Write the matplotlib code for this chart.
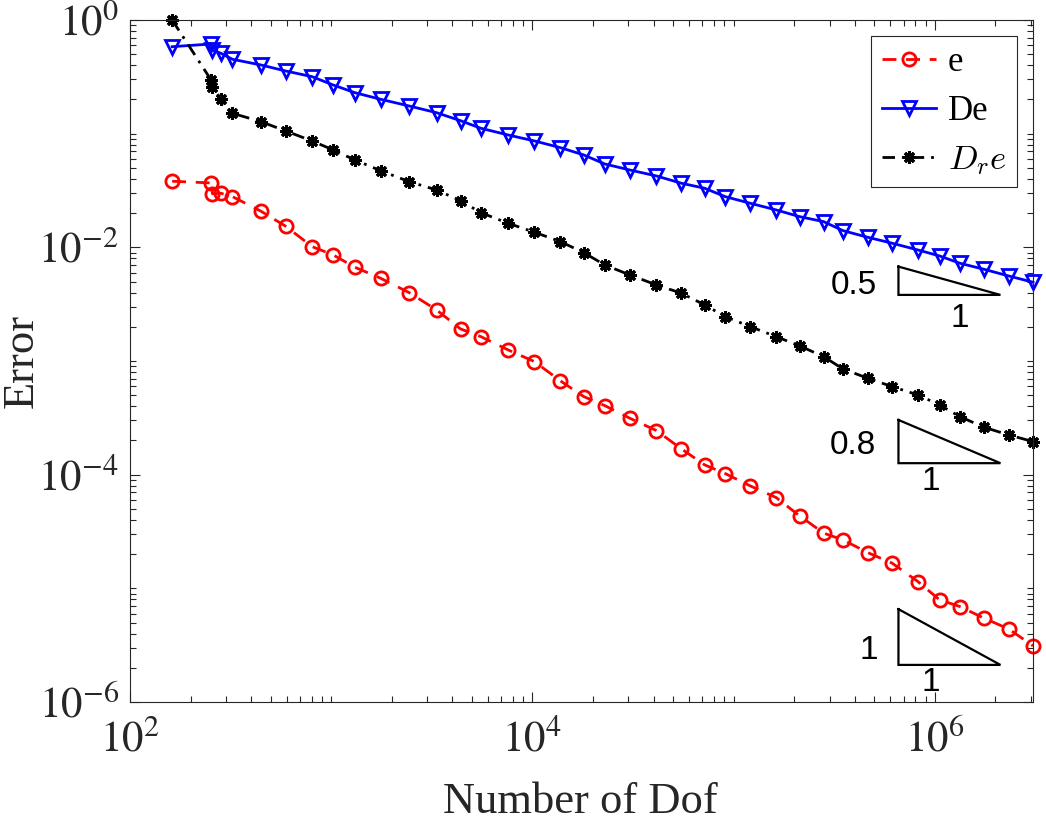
import numpy as np
import matplotlib
matplotlib.use('Agg')
import matplotlib.pyplot as plt
from matplotlib.ticker import LogLocator, NullFormatter
from matplotlib.font_manager import FontProperties

# ---------------- data ----------------
dof = [162, 253, 257, 283, 323, 448, 594, 804, 1023, 1311, 1760, 2441, 3339,
       4393, 5542, 7574, 10240, 13790, 18000, 22890, 30470, 41350, 55040,
       71840, 90850, 120900, 162800, 213000, 280300, 349500, 463600, 613600,
       824100, 1056000, 1332000, 1753000, 2326000, 3078000]

err_e = [3.815e-2, 3.685e-2, 2.961e-2, 2.991e-2, 2.792e-2, 2.077e-2, 1.533e-2,
         1.014e-2, 8.577e-3, 6.683e-3, 5.348e-3, 3.996e-3, 2.814e-3, 1.916e-3,
         1.639e-3, 1.252e-3, 9.879e-4, 6.683e-4, 4.862e-4, 4.053e-4, 3.139e-4,
         2.443e-4, 1.686e-4, 1.219e-4, 1.023e-4, 7.97e-5, 6.29e-5, 4.34e-5,
         3.06e-5, 2.67e-5, 2.065e-5, 1.666e-5, 1.148e-5, 7.92e-6, 6.92e-6,
         5.47e-6, 4.40e-6, 3.12e-6]

err_De = [0.5823, 0.6150, 0.5446, 0.5095, 0.4512, 0.4020, 0.3560, 0.3172,
          0.2681, 0.2294, 0.2007, 0.1752, 0.1530, 0.1301, 0.1116, 0.09741,
          0.08626, 0.07532, 0.06497, 0.05413, 0.04794, 0.04246, 0.03663,
          0.03310, 0.02792, 0.02443, 0.02133, 0.01862, 0.01683, 0.01403,
          0.01227, 0.01087, 0.009486, 0.008402, 0.007248, 0.006418, 0.005604,
          0.004932]

err_Dre = [1.0, 0.2967, 0.2575, 0.2019, 0.1511, 0.1275, 0.1056, 0.08626,
           0.07190, 0.05871, 0.04726, 0.03782, 0.03197, 0.02575, 0.02019,
           0.01629, 0.01358, 0.01122, 0.008982, 0.007002, 0.005719, 0.004670,
           0.003947, 0.003115, 0.002458, 0.002007, 0.001639, 0.001358,
           0.001093, 8.52e-4, 7.06e-4, 5.953e-4, 5.031e-4, 4.111e-4, 3.243e-4,
           2.617e-4, 2.239e-4, 1.955e-4]

series_labels = ['e', 'De', r'$D_r e$']
xticks = [1e2, 1e4, 1e6]
xtick_labels = [r'$10^{2}$', r'$10^{4}$', r'$10^{6}$']
yticks = [1e-6, 1e-4, 1e-2, 1e0]
ytick_labels = [r'$10^{-6}$', r'$10^{-4}$', r'$10^{-2}$', r'$10^{0}$']

# slope triangles (annotation): x-range and (top, bottom) y values
tri_x = [6.6e5, 2.12e6]
tri_y = [(6.77e-3, 3.815e-3), (3.03e-4, 1.262e-4), (6.56e-6, 2.12e-6)]
tri_rates = ['0.5', '0.8', '1']

# ---------------- figure ----------------
W, H = 1046, 821
fig = plt.figure(figsize=(W / 100, H / 100), dpi=100)
ax = fig.add_axes([130 / W, 1 - 702 / H, (1033 - 130) / W, (702 - 20) / H])

axc = (0.15, 0.15, 0.15)

l1, = ax.loglog(dof, err_e, color='r', lw=2, marker='o', ms=9.5, mfc='none',
                mew=2, label=series_labels[0], clip_on=False)
l1.set_dashes((5, 3.5))
l2, = ax.loglog(dof, err_De, color='b', lw=2, ls='-', marker='v', ms=10.5,
                mfc='none', mew=2, label=series_labels[1], clip_on=False)
l3, = ax.loglog(dof, err_Dre, color='k', lw=2, marker=(8, 2, 0), ms=9,
                mew=2.2, label=series_labels[2], clip_on=False)
l3.set_dashes((4.5, 2.5, 1, 2.5))

ax.set_xlim(100, dof[-1])
ax.set_ylim(1e-6, 1)

ax.set_xticks(xticks)
ax.set_yticks(yticks)
ax.xaxis.set_minor_locator(LogLocator(base=10, subs=np.arange(1, 10), numticks=100))
ax.yaxis.set_minor_locator(LogLocator(base=10, subs=np.arange(1, 10), numticks=100))
ax.xaxis.set_minor_formatter(NullFormatter())
ax.yaxis.set_minor_formatter(NullFormatter())

tick_fp = FontProperties(family='Liberation Serif', size=31, math_fontfamily='stix')
ax.set_xticklabels(xtick_labels, fontproperties=tick_fp, color=axc)
ax.set_yticklabels(ytick_labels, fontproperties=tick_fp, color=axc)

ax.tick_params(which='both', direction='in', top=True, right=True,
               color=axc, width=0.8)
ax.tick_params(which='major', length=7.2)
ax.tick_params(which='minor', length=4.3)
ax.tick_params(axis='x', which='major', pad=13)
ax.tick_params(axis='y', which='major', pad=8)
for sp in ax.spines.values():
    sp.set_color(axc)
    sp.set_linewidth(0.8)

# axis labels
lab_fp = FontProperties(family='Liberation Serif', size=32)
fig.text(580 / W, 1 - 813 / H, 'Number of Dof', fontproperties=lab_fp,
         ha='center', va='baseline', color=axc)
fig.text(33 / W, 1 - 361 / H, 'Error', fontproperties=lab_fp, rotation=90,
         rotation_mode='anchor', ha='center', va='baseline', color=axc)

# legend
leg_fp = FontProperties(family='Liberation Serif', size=25, math_fontfamily='cm')
leg = ax.legend(loc='upper right', bbox_to_anchor=((1017 - 130) / 903, (702 - 36) / 682),
                prop=leg_fp, frameon=True, fancybox=False, edgecolor=axc,
                framealpha=1, borderaxespad=0, borderpad=0.3,
                handlelength=1.55, handletextpad=0.35, labelspacing=0.45)
leg.get_frame().set_linewidth(0.8)

# slope triangles
ann_fp = FontProperties(family='Liberation Sans', size=24)
for (yt, yb) in tri_y:
    ax.plot([tri_x[0], tri_x[0], tri_x[1], tri_x[0]], [yt, yb, yb, yt],
            color='k', lw=1.6, solid_joinstyle='miter')

ax.text(0.8272, 0.6114, tri_rates[0], transform=ax.transAxes, fontproperties=ann_fp,
        ha='right', va='center')
ax.text(0.9192, 0.5630, '1', transform=ax.transAxes, fontproperties=ann_fp,
        ha='center', va='center')
ax.text(0.8261, 0.3768, tri_rates[1], transform=ax.transAxes, fontproperties=ann_fp,
        ha='right', va='center')
ax.text(0.8870, 0.3240, '1', transform=ax.transAxes, fontproperties=ann_fp,
        ha='center', va='center')
ax.text(0.8283, 0.0762, tri_rates[2], transform=ax.transAxes, fontproperties=ann_fp,
        ha='right', va='center')
ax.text(0.8870, 0.0279, '1', transform=ax.transAxes, fontproperties=ann_fp,
        ha='center', va='center')

fig.savefig('out.png', dpi=100)
